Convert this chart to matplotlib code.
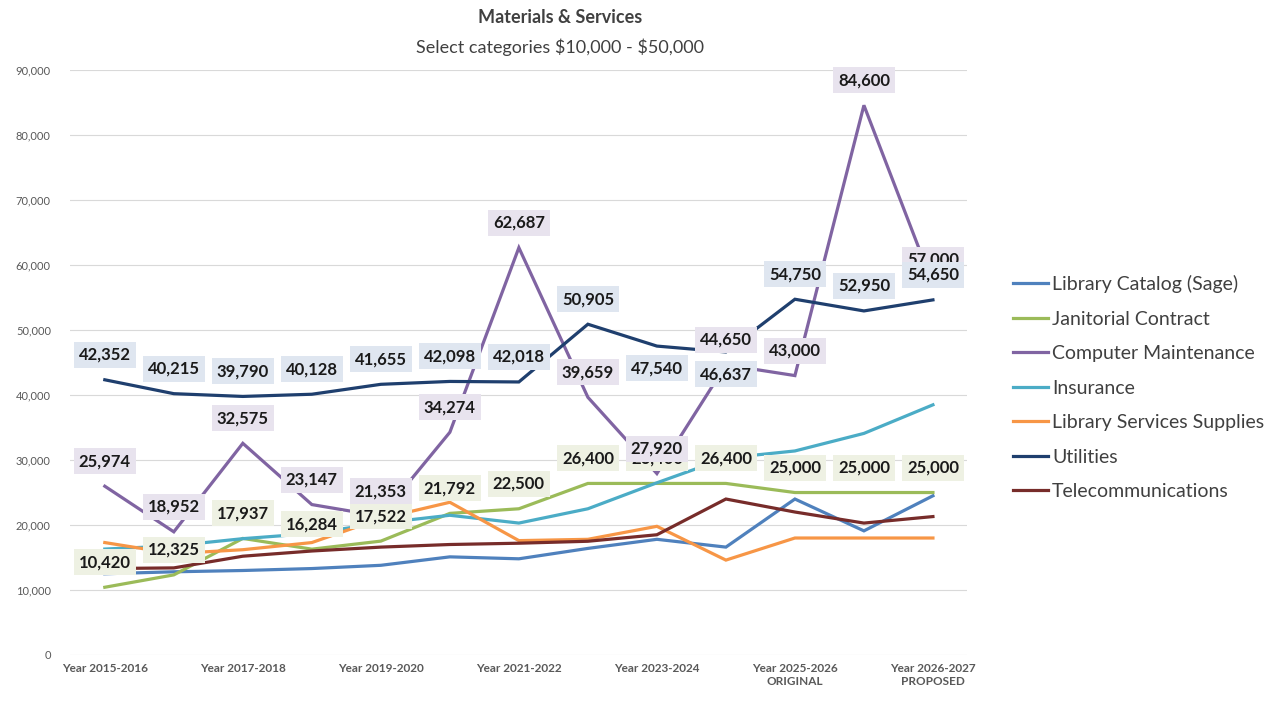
import matplotlib.pyplot as plt
import numpy as np

plt.rcParams['font.family'] = ['Lato', 'DejaVu Sans']

years = ["Year 2015-2016", "Year 2016-2017", "Year 2017-2018", "Year 2018-2019",
         "Year 2019-2020", "Year 2020-2021", "Year 2021-2022", "Year 2022-2023",
         "Year 2023-2024", "Year 2024-2025", "Year 2025-2026\nORIGINAL",
         "Year 2025-2026\nREVISED", "Year 2026-2027\nPROPOSED"]

library_catalog = [12500, 12800, 13000, 13300, 13800, 15100, 14800, 16400, 17800, 16600, 24000, 19100, 24500]
janitorial = [10420, 12325, 17937, 16284, 17522, 21792, 22500, 26400, 26400, 26400, 25000, 25000, 25000]
computer_maint = [25974, 18952, 32575, 23147, 21353, 34274, 62687, 39659, 27920, 44650, 43000, 84600, 57000]
insurance = [16300, 16800, 17900, 18700, 20300, 21500, 20300, 22500, 26500, 30300, 31400, 34100, 38500]
lib_supplies = [17300, 15600, 16200, 17300, 21000, 23500, 17600, 17800, 19800, 14600, 18000, 18000, 18000]
utilities = [42352, 40215, 39790, 40128, 41655, 42098, 42018, 50905, 47540, 46637, 54750, 52950, 54650]
telecom = [13300, 13400, 15200, 16000, 16600, 17000, 17200, 17500, 18500, 24000, 22000, 20300, 21300]

series = [
    ("Library Catalog (Sage)", library_catalog, "#4f81bd"),
    ("Janitorial Contract", janitorial, "#9bbb59"),
    ("Computer Maintenance", computer_maint, "#8064a2"),
    ("Insurance", insurance, "#4bacc6"),
    ("Library Services Supplies", lib_supplies, "#f79646"),
    ("Utilities", utilities, "#1f3f6e"),
    ("Telecommunications", telecom, "#772c2a"),
]

x = np.arange(len(years))

fig = plt.figure(figsize=(12.78, 7.02), dpi=100)
ax = fig.add_axes([0.055, 0.067, 0.702, 0.833])

for name, vals, col in series:
    ax.plot(x, vals, color=col, lw=2.3, label=name, solid_joinstyle='miter')

# data labels for three series, with tinted boxes like the source workbook
def add_labels(vals, bg, z, below=()):
    for i, v in enumerate(vals):
        dy = -16 if i in below else 18
        ax.annotate(f"{v:,}", (x[i], v), xytext=(0, dy), textcoords='offset points',
                    ha='center', va='center', fontsize=12, fontweight='bold',
                    color='#1a1a1a', zorder=z,
                    bbox=dict(boxstyle='square,pad=0.3', fc=bg, ec='none'))

add_labels(janitorial, '#eef1e3', 5)
add_labels(computer_maint, '#e8e3ee', 6)
add_labels(utilities, '#dfe6f0', 7, below=(8, 9))

ax.set_xlim(-0.5, len(years) - 0.5)
ax.set_ylim(0, 90000)
ax.set_yticks(np.arange(0, 90001, 10000))
ax.yaxis.set_major_formatter(plt.FuncFormatter(lambda v, p: f"{int(v):,}"))
ax.set_xticks(x[::2])
ax.set_xticklabels(years[::2], fontsize=8.5, fontweight='bold', color='#595959')
ax.tick_params(axis='y', labelsize=8, colors='#595959', length=0, pad=14)
ax.tick_params(axis='x', length=0, pad=6)
ax.grid(axis='y', color='#d9d9d9', lw=0.8)
ax.set_axisbelow(True)
for s in ax.spines.values():
    s.set_visible(False)

fig.text(0.438, 0.975, "Materials & Services", ha='center', va='center',
         fontsize=13, fontweight='bold', color='#404040')
fig.text(0.438, 0.933, "Select categories \\$10,000 - \\$50,000", ha='center', va='center',
         fontsize=13, color='#404040')

fig.legend(loc='upper left', bbox_to_anchor=(0.779, 0.633), frameon=False,
           fontsize=14, handlelength=1.8, handletextpad=0.2, labelspacing=0.9,
           labelcolor='#404040')

fig.savefig("out.png", dpi=100)
